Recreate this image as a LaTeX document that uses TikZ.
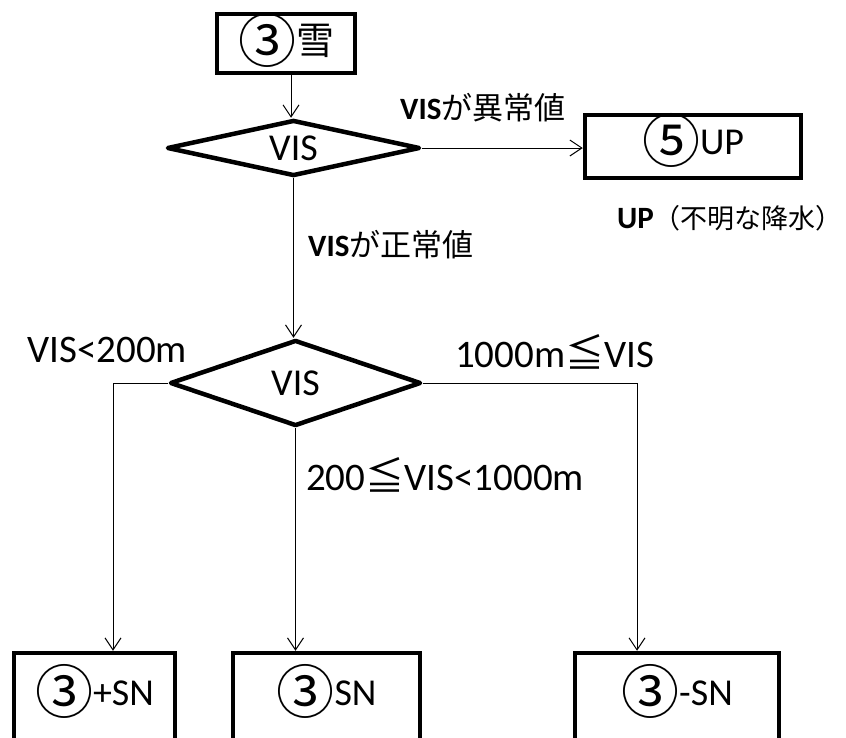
\documentclass[tikz,border=0pt]{standalone}
\usepackage{fontspec}
\setmainfont{Carlito}
\newfontfamily\jp{Noto Sans CJK JP}
\newcommand{\circd}[1]{\raisebox{-8pt}{\smash{\fontsize{58}{58}\selectfont\jp #1}}}
\newcommand{\jpl}[1]{{\fontsize{31}{34}\selectfont\jp #1}}
\usetikzlibrary{shapes.geometric,arrows.meta}
\begin{document}
\begin{tikzpicture}[x=1pt,y=-1pt,
  box/.style={draw, line width=4.5pt, inner sep=0pt, font=\fontsize{38}{42}\selectfont},
  dia/.style={draw, diamond, line width=4.5pt, line join=round, inner sep=0pt, aspect=4, font=\fontsize{38}{42}\selectfont},
  arr/.style={-{Straight Barb[length=12pt,width=16pt]}, line width=1pt},
  lab/.style={anchor=west, inner sep=0pt, font=\fontsize{31}{34}\selectfont},
  cond/.style={anchor=west, inner sep=0pt, font=\fontsize{39}{42}\selectfont}]
\clip (0,0) rectangle (846,737);
\fill[white] (0,0) rectangle (846,737);
% boxes
\node[box, minimum width=138pt, minimum height=59pt] (s) at (286,43.5) {\circd{③}{\jp 雪}};
\node[dia, minimum width=253pt, minimum height=56pt] (d1) at (293.5,148) {VIS};
\node[box, minimum width=216pt, minimum height=63pt] (up) at (693,146.5) {\circd{⑤}UP};
\node[dia, minimum width=251pt, minimum height=86pt] (d2) at (295.5,383) {VIS};
\node[box, minimum width=161pt, minimum height=88pt] (b1) at (94.5,697) {\circd{③}+SN};
\node[box, minimum width=187pt, minimum height=88pt] (b2) at (326.5,697) {\circd{③}SN};
\node[box, minimum width=204pt, minimum height=88pt] (b3) at (677,697) {\circd{③}-SN};
% helper coordinates
\coordinate (c1) at (113,0);
\coordinate (c3) at (637,0);
\coordinate (c0) at (291,0);
% connectors
\draw[arr] (s.south -| c0) -- (d1.north -| c0);
\draw[arr] (d1.east) -- (d1.east -| up.west);
\draw[arr] (d1.south) -- (d1.south |- d2.north);
\draw[arr] (d2.west) -| (b1.north -| c1);
\draw[arr] (d2.south) -- (d2.south |- b2.north);
\draw[arr] (d2.east) -| (b3.north -| c3);
% labels
\node[lab] (l1) at (400,108) {{\bfseries VIS}\jpl{が異常値}};
\node[lab] (l2) at (617,218) {{\bfseries UP}{\fontsize{27}{34}\selectfont\jp （不明な降水）}};
\node[lab] (l3) at (308,245) {{\bfseries VIS}\jpl{が正常値}};
\node[cond] (l4) at (27,350) {VIS<200m};
\node[cond] (l5) at (455,352) {1000m{\jp ≦}VIS};
\node[cond] (l6) at (306,475) {200{\jp ≦}VIS<1000m};
\end{tikzpicture}
\end{document}
